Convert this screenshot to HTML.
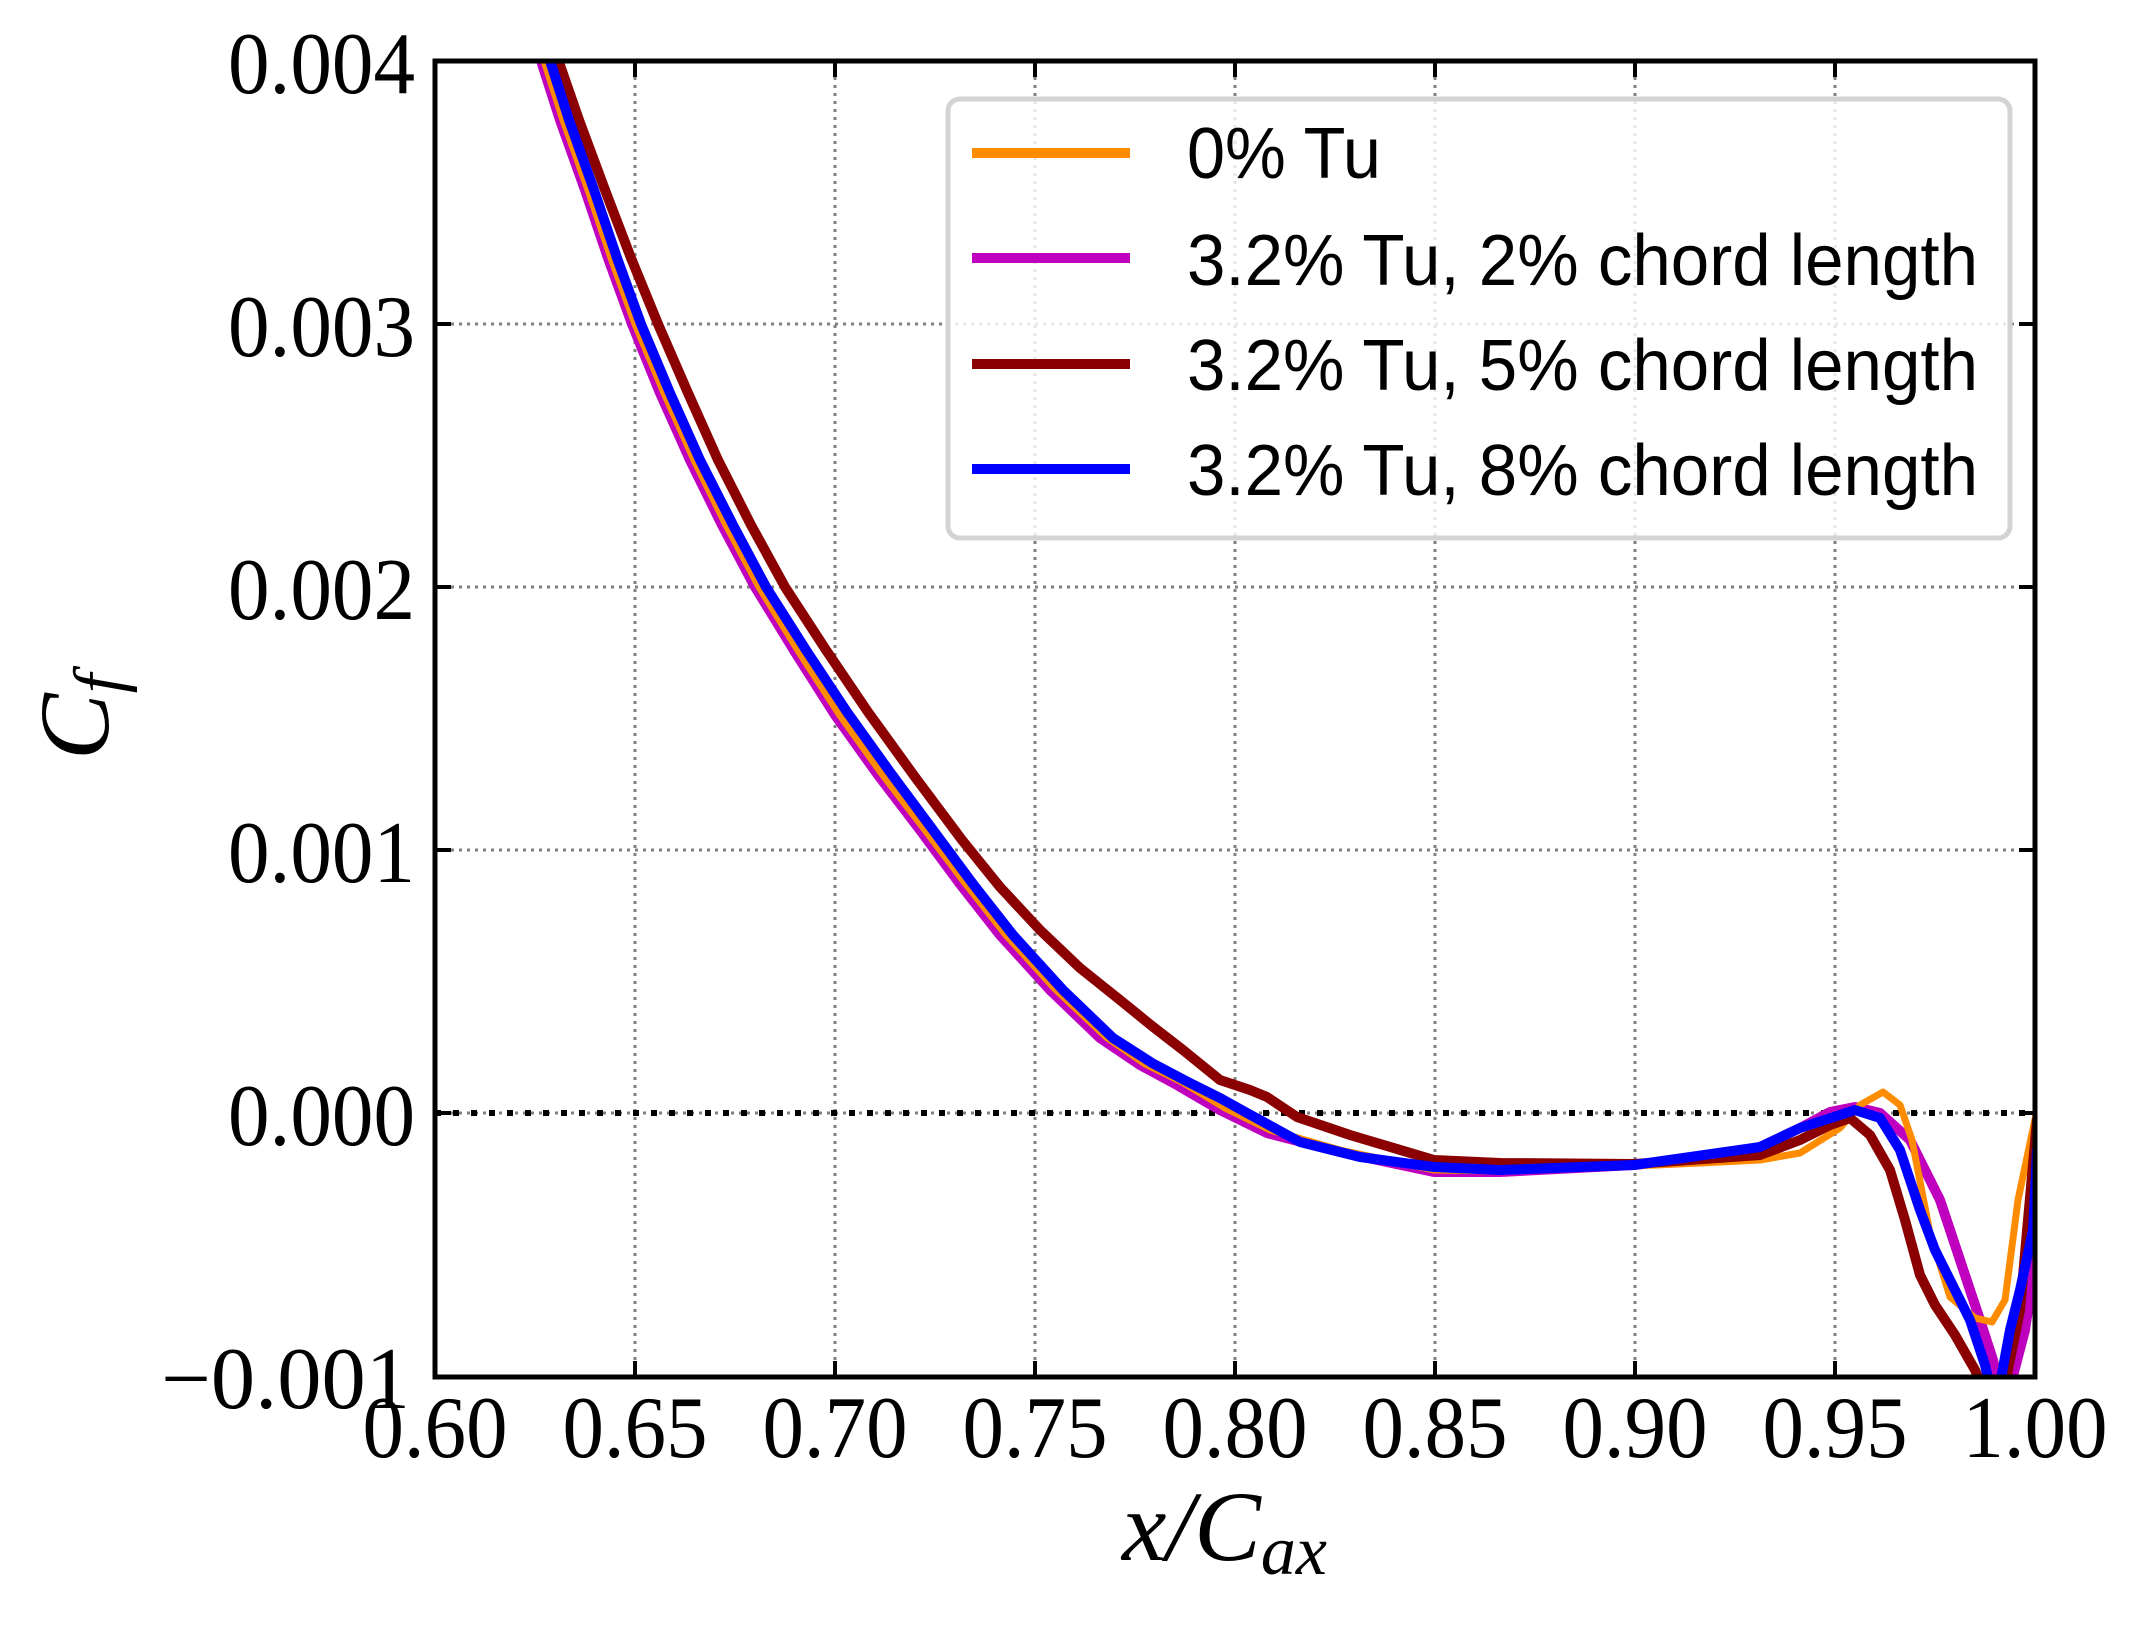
<!DOCTYPE html>
<html><head><meta charset="utf-8"><style>
html,body{margin:0;padding:0;background:#fff;}
svg{display:block;}
text{font-family:"Liberation Serif",serif;}
.lg{font-family:"Liberation Sans",sans-serif;font-size:72px;}
</style></head><body>
<svg width="2155" height="1631" viewBox="0 0 2155 1631" xmlns="http://www.w3.org/2000/svg">
<defs><clipPath id="c"><rect x="435" y="61" width="1600" height="1316"/></clipPath></defs>
<rect width="2155" height="1631" fill="#fff"/>
<g stroke="#808080" stroke-width="3" stroke-dasharray="3,5">
<line x1="635" y1="61" x2="635" y2="1377"/><line x1="835" y1="61" x2="835" y2="1377"/>
<line x1="1035" y1="61" x2="1035" y2="1377"/><line x1="1235" y1="61" x2="1235" y2="1377"/>
<line x1="1435" y1="61" x2="1435" y2="1377"/><line x1="1635" y1="61" x2="1635" y2="1377"/>
<line x1="1835" y1="61" x2="1835" y2="1377"/>
<line x1="435" y1="324" x2="2035" y2="324"/><line x1="435" y1="587" x2="2035" y2="587"/>
<line x1="435" y1="850" x2="2035" y2="850"/><line x1="435" y1="1113" x2="2035" y2="1113"/>
</g>
<line x1="435" y1="1113" x2="2035" y2="1113" stroke="#000" stroke-width="6" stroke-dasharray="6,12"/>
<g clip-path="url(#c)" fill="none" stroke-width="10" stroke-linejoin="round" stroke-linecap="round">
<polyline stroke="#bf00bf" points="536,45 560,120 585,190 608,258 632,324 660,393 690,460 722,525 755,587 795,652 835,715 878,775 920,830 960,884 1000,935 1050,990 1100,1038 1140,1065 1177,1085 1220,1110 1267,1133 1340,1152 1434,1172 1500,1172 1634,1165 1700,1158 1760,1147 1800,1128 1830,1112 1855,1107 1880,1113 1910,1140 1940,1200 1960,1260 1980,1320 1993,1360 2001,1395 2008,1395 2025,1330 2037,1250"/>
<polyline stroke="#ff8c00" stroke-width="7" points="539,45 563,120 588,190 611,258 635,324 664,393 694,460 726,525 759,587 799,652 839,714 882,774 925,830 965,883 1005,934 1055,989 1106,1037 1145,1064 1182,1082 1225,1108 1270,1130 1340,1150 1434,1170 1500,1171 1634,1166 1700,1163 1760,1160 1800,1153 1840,1128 1860,1105 1883,1092 1900,1105 1912,1140 1930,1233 1950,1297 1975,1318 1992,1322 2005,1300 2018,1200 2037,1110"/>
<polyline stroke="#8b0000" points="553,45 579,120 605,190 631,258 658,324 688,393 718,460 751,525 785,587 826,650 868,712 915,777 962,840 1000,887 1040,930 1080,968 1120,1000 1152,1026 1183,1050 1220,1080 1250,1090 1267,1097 1297,1117 1350,1135 1434,1160 1500,1163 1634,1164 1760,1155 1800,1140 1830,1125 1850,1118 1870,1135 1890,1170 1905,1220 1920,1275 1935,1305 1955,1335 1975,1370 1986,1395 2003,1395 2020,1310 2028,1220 2037,1120"/>
<polyline stroke="#0000ff" points="545,45 569,120 594,190 617,258 641,324 670,393 700,460 733,525 766,587 806,650 847,712 890,772 933,830 973,884 1013,935 1063,990 1113,1038 1152,1063 1190,1083 1220,1098 1247,1113 1300,1142 1360,1157 1434,1167 1500,1170 1634,1165 1760,1147 1800,1128 1840,1115 1855,1110 1880,1118 1900,1150 1920,1210 1935,1250 1955,1290 1970,1320 1985,1365 1992,1395 1998,1395 2010,1330 2020,1290 2033,1230 2037,1150"/>
</g>
<rect x="435" y="61" width="1600" height="1316" fill="none" stroke="#000" stroke-width="5"/>
<g stroke="#000" stroke-width="4">
<path d="M635,61v16M835,61v16M1035,61v16M1235,61v16M1435,61v16M1635,61v16M1835,61v16"/>
<path d="M635,1377v-16M835,1377v-16M1035,1377v-16M1235,1377v-16M1435,1377v-16M1635,1377v-16M1835,1377v-16"/>
<path d="M435,324h16M435,587h16M435,850h16M435,1113h16M2035,324h-16M2035,587h-16M2035,850h-16M2035,1113h-16"/>
</g>
<rect x="948" y="99" width="1062" height="439" rx="12" fill="#fff" fill-opacity="0.8" stroke="#d3d3d3" stroke-width="5"/>
<g stroke-width="10">
<line x1="972" y1="153" x2="1130" y2="153" stroke="#ff8c00"/>
<line x1="972" y1="258" x2="1130" y2="258" stroke="#bf00bf"/>
<line x1="972" y1="364" x2="1130" y2="364" stroke="#8b0000"/>
<line x1="972" y1="469" x2="1130" y2="469" stroke="#0000ff"/>
</g>
<text class="lg" x="1187" y="178" textLength="194" lengthAdjust="spacingAndGlyphs">0% Tu</text>
<text class="lg" x="1187" y="285" textLength="791" lengthAdjust="spacingAndGlyphs">3.2% Tu, 2% chord length</text>
<text class="lg" x="1187" y="390" textLength="791" lengthAdjust="spacingAndGlyphs">3.2% Tu, 5% chord length</text>
<text class="lg" x="1187" y="495" textLength="791" lengthAdjust="spacingAndGlyphs">3.2% Tu, 8% chord length</text>
<g font-size="88">
<text x="228" y="93" textLength="187" lengthAdjust="spacingAndGlyphs">0.004</text>
<text x="228" y="356" textLength="187" lengthAdjust="spacingAndGlyphs">0.003</text>
<text x="228" y="619" textLength="187" lengthAdjust="spacingAndGlyphs">0.002</text>
<text x="228" y="882" textLength="187" lengthAdjust="spacingAndGlyphs">0.001</text>
<text x="228" y="1145" textLength="187" lengthAdjust="spacingAndGlyphs">0.000</text>
<text x="161" y="1408" textLength="249" lengthAdjust="spacingAndGlyphs">−0.001</text>
<g text-anchor="middle">
<text x="435" y="1457" textLength="145" lengthAdjust="spacingAndGlyphs">0.60</text>
<text x="635" y="1457" textLength="145" lengthAdjust="spacingAndGlyphs">0.65</text>
<text x="835" y="1457" textLength="145" lengthAdjust="spacingAndGlyphs">0.70</text>
<text x="1035" y="1457" textLength="145" lengthAdjust="spacingAndGlyphs">0.75</text>
<text x="1235" y="1457" textLength="145" lengthAdjust="spacingAndGlyphs">0.80</text>
<text x="1435" y="1457" textLength="145" lengthAdjust="spacingAndGlyphs">0.85</text>
<text x="1635" y="1457" textLength="145" lengthAdjust="spacingAndGlyphs">0.90</text>
<text x="1835" y="1457" textLength="145" lengthAdjust="spacingAndGlyphs">0.95</text>
<text x="2035" y="1457" textLength="145" lengthAdjust="spacingAndGlyphs">1.00</text>
</g>
</g>
<text x="1122" y="1560" font-size="100" font-style="italic">x/C<tspan font-size="70" dy="14">ax</tspan></text>
<text transform="translate(108,760) rotate(-90)" font-size="100" font-style="italic">C<tspan font-size="70" dy="14">f</tspan></text>
</svg>
</body></html>
